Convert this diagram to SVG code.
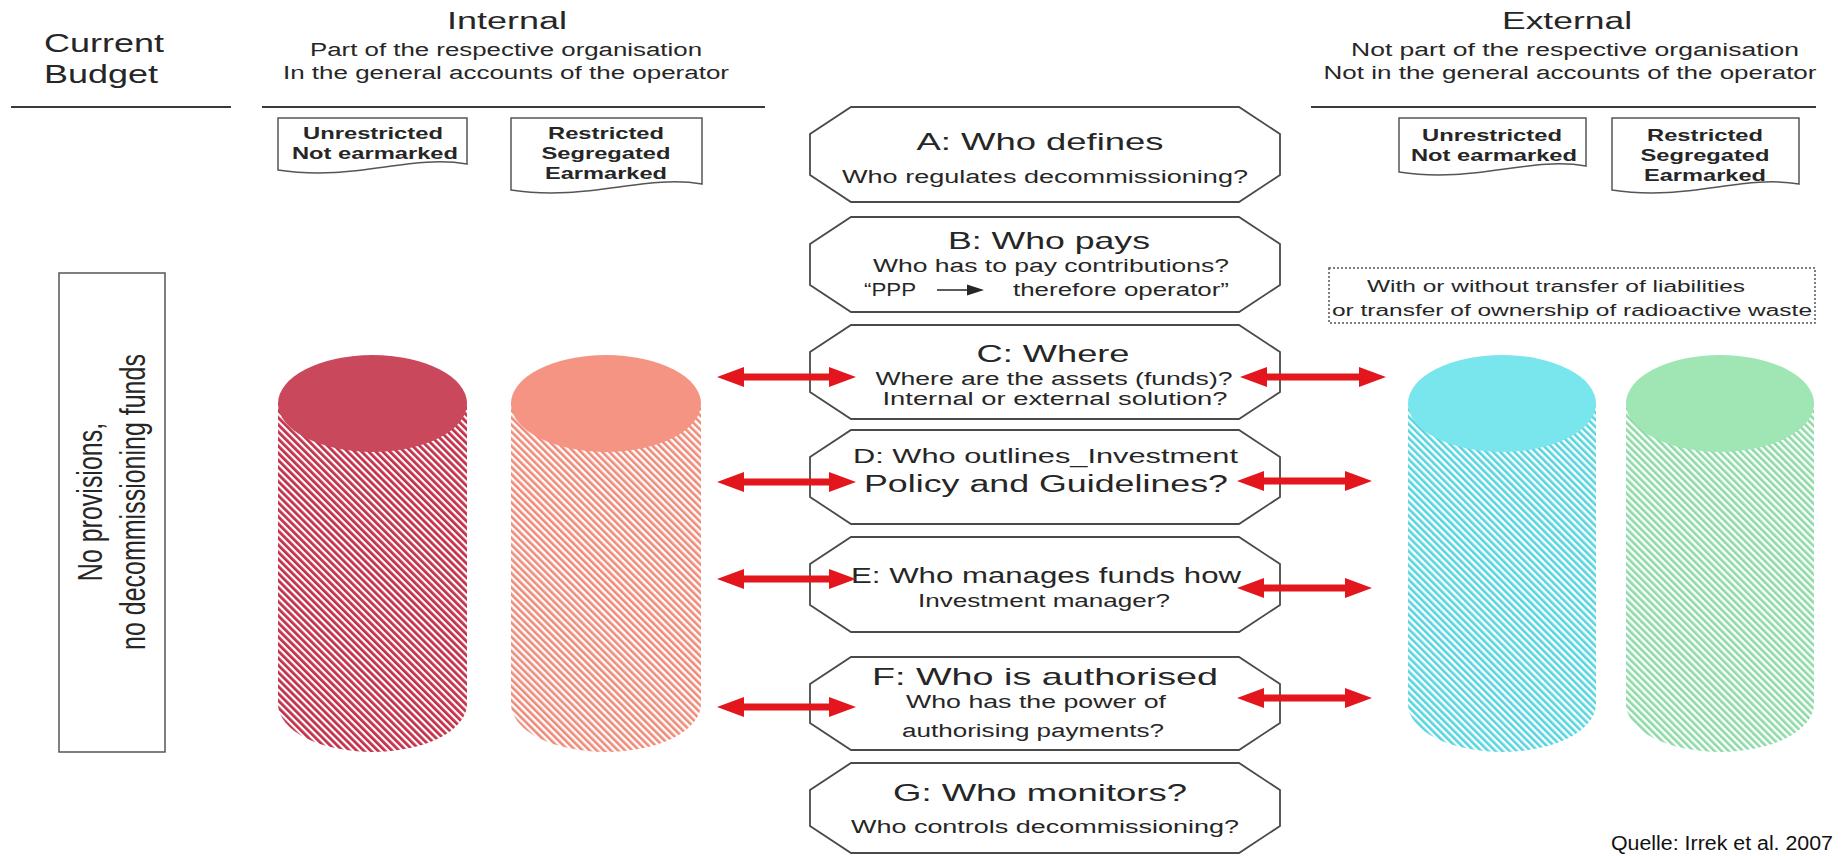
<svg xmlns="http://www.w3.org/2000/svg" width="1843" height="856" viewBox="0 0 1843 856">
<style>
.t{font-family:"Liberation Sans",Arial,Helvetica,sans-serif;fill:#262626}
.m{text-anchor:middle}
.b{font-weight:bold}
.ln{stroke:#3a3a3a;stroke-width:2;fill:none}
.oct{fill:#fff;stroke:#4a4a4a;stroke-width:1.8}
.doc{fill:#fff;stroke:#555;stroke-width:1.5}
.arr{fill:#e3161e}
</style>
<defs>
<pattern id="hR" width="5" height="5" patternUnits="userSpaceOnUse" patternTransform="rotate(-45)"><rect width="5" height="5" fill="#fff"/><rect width="2.8" height="5" fill="#c4304a"/></pattern>
<pattern id="hS" width="5" height="5" patternUnits="userSpaceOnUse" patternTransform="rotate(-45)"><rect width="5" height="5" fill="#fff"/><rect width="2.6" height="5" fill="#f08a78"/></pattern>
<pattern id="hC" width="5" height="5" patternUnits="userSpaceOnUse" patternTransform="rotate(-45)"><rect width="5" height="5" fill="#fff"/><rect width="2.6" height="5" fill="#55d5dd"/></pattern>
<pattern id="hG" width="5" height="5" patternUnits="userSpaceOnUse" patternTransform="rotate(-45)"><rect width="5" height="5" fill="#fff"/><rect width="2.6" height="5" fill="#8cdaa6"/></pattern>
</defs>
<rect width="1843" height="856" fill="#fff"/>

<g id="header-budget">
<text class="t" x="44" y="52" font-size="25" textLength="120" lengthAdjust="spacingAndGlyphs">Current</text>
<text class="t" x="44" y="83" font-size="25" textLength="114" lengthAdjust="spacingAndGlyphs">Budget</text>
<line class="ln" x1="11" y1="107" x2="231" y2="107"/>
</g>

<g id="header-internal">
<text class="t m" x="507" y="29" font-size="23" textLength="120" lengthAdjust="spacingAndGlyphs">Internal</text>
<text class="t m" x="506" y="56" font-size="18" textLength="392" lengthAdjust="spacingAndGlyphs">Part of the respective organisation</text>
<text class="t m" x="506" y="79" font-size="18" textLength="446" lengthAdjust="spacingAndGlyphs">In the general accounts of the operator</text>
<line class="ln" x1="262" y1="107" x2="765" y2="107"/>
</g>

<g id="header-external">
<text class="t m" x="1567" y="29" font-size="23" textLength="130" lengthAdjust="spacingAndGlyphs">External</text>
<text class="t m" x="1575" y="56" font-size="18" textLength="448" lengthAdjust="spacingAndGlyphs">Not part of the respective organisation</text>
<text class="t m" x="1570" y="79" font-size="18" textLength="493" lengthAdjust="spacingAndGlyphs">Not in the general accounts of the operator</text>
<line class="ln" x1="1311" y1="107" x2="1816" y2="107"/>
</g>

<g id="doc-int-unrestricted">
<path class="doc" d="M278 118 H467 V164 C410 154 354 182 278 170 Z"/>
<text class="t m b" x="373" y="139" font-size="16.5" textLength="140" lengthAdjust="spacingAndGlyphs">Unrestricted</text>
<text class="t m b" x="375" y="159" font-size="16.5" textLength="166" lengthAdjust="spacingAndGlyphs">Not earmarked</text>
</g>
<g id="doc-int-restricted">
<path class="doc" d="M511 118 H702 V184 C645 174 587 202 511 190 Z"/>
<text class="t m b" x="606" y="139" font-size="16.5" textLength="116" lengthAdjust="spacingAndGlyphs">Restricted</text>
<text class="t m b" x="606" y="159" font-size="16.5" textLength="129" lengthAdjust="spacingAndGlyphs">Segregated</text>
<text class="t m b" x="606" y="179" font-size="16.5" textLength="122" lengthAdjust="spacingAndGlyphs">Earmarked</text>
</g>
<g id="doc-ext-unrestricted">
<path class="doc" d="M1399 118 H1586 V166 C1530 156 1474 184 1399 172 Z"/>
<text class="t m b" x="1492" y="141" font-size="16.5" textLength="140" lengthAdjust="spacingAndGlyphs">Unrestricted</text>
<text class="t m b" x="1494" y="161" font-size="16.5" textLength="166" lengthAdjust="spacingAndGlyphs">Not earmarked</text>
</g>
<g id="doc-ext-restricted">
<path class="doc" d="M1612 118 H1799 V184 C1743 174 1687 202 1612 190 Z"/>
<text class="t m b" x="1705" y="141" font-size="16.5" textLength="116" lengthAdjust="spacingAndGlyphs">Restricted</text>
<text class="t m b" x="1705" y="161" font-size="16.5" textLength="129" lengthAdjust="spacingAndGlyphs">Segregated</text>
<text class="t m b" x="1705" y="181" font-size="16.5" textLength="122" lengthAdjust="spacingAndGlyphs">Earmarked</text>
</g>

<g id="no-provisions">
<rect x="59" y="273" width="106" height="479" fill="#fff" stroke="#555" stroke-width="1.5"/>
<text class="t m" font-size="25" transform="translate(102,502) scale(1.38,1) rotate(-90)">No provisions,</text>
<text class="t m" font-size="25" transform="translate(145,502) scale(1.38,1) rotate(-90)">no decommissioning funds</text>
</g>

<g id="cyl-int-unrestricted">
<path d="M278 403 V704 A94.5 48 0 0 0 467 704 V403 Z" fill="url(#hR)"/>
<ellipse cx="372.5" cy="403.5" rx="94.5" ry="48.5" fill="#c9485b"/>
</g>
<g id="cyl-int-restricted">
<path d="M511 403 V704 A95 48 0 0 0 701 704 V403 Z" fill="url(#hS)"/>
<ellipse cx="606" cy="403.5" rx="95" ry="48.5" fill="#f59483"/>
</g>
<g id="cyl-ext-unrestricted">
<path d="M1408 403 V704 A94 48 0 0 0 1596 704 V403 Z" fill="url(#hC)"/>
<ellipse cx="1502" cy="403.5" rx="94" ry="48.5" fill="#79e5ec"/>
</g>
<g id="cyl-ext-restricted">
<path d="M1626 403 V704 A94 48 0 0 0 1814 704 V403 Z" fill="url(#hG)"/>
<ellipse cx="1720" cy="403.5" rx="94" ry="48.5" fill="#9fe6b4"/>
</g>

<g id="transfer-note">
<rect x="1329" y="268" width="486" height="55" fill="#fff" stroke="#555" stroke-width="1.5" stroke-dasharray="2 2"/>
<text class="t m" x="1556" y="292" font-size="16" textLength="378" lengthAdjust="spacingAndGlyphs">With or without transfer of liabilities</text>
<text class="t m" x="1572" y="316" font-size="16" textLength="480" lengthAdjust="spacingAndGlyphs">or transfer of ownership of radioactive waste</text>
</g>

<g id="node-a">
<path class="oct" d="M851 107 H1239 L1280 134 V175 L1239 202 H851 L810 175 V134 Z"/>
<text class="t m" x="1040" y="150" font-size="24" textLength="247" lengthAdjust="spacingAndGlyphs">A: Who defines</text>
<text class="t m" x="1045" y="183" font-size="18" textLength="406" lengthAdjust="spacingAndGlyphs">Who regulates decommissioning?</text>
</g>
<g id="node-b">
<path class="oct" d="M851 217 H1239 L1280 244 V285 L1239 312 H851 L810 285 V244 Z"/>
<text class="t m" x="1049" y="249" font-size="24" textLength="202" lengthAdjust="spacingAndGlyphs">B: Who pays</text>
<text class="t m" x="1051" y="272" font-size="18" textLength="356" lengthAdjust="spacingAndGlyphs">Who has to pay contributions?</text>
<text class="t" x="864" y="296" font-size="18" textLength="52" lengthAdjust="spacingAndGlyphs">“PPP</text>
<line x1="937" y1="290" x2="969" y2="290" stroke="#262626" stroke-width="1.5"/>
<polygon points="967,284.5 984,290 967,295.5" fill="#262626"/>
<text class="t" x="1013" y="296" font-size="18" textLength="216" lengthAdjust="spacingAndGlyphs">therefore operator”</text>
</g>
<g id="node-c">
<path class="oct" d="M851 325 H1239 L1280 352 V392 L1239 419 H851 L810 392 V352 Z"/>
<text class="t m" x="1053" y="362" font-size="24" textLength="153" lengthAdjust="spacingAndGlyphs">C: Where</text>
<text class="t m" x="1054" y="385" font-size="18" textLength="357" lengthAdjust="spacingAndGlyphs">Where are the assets (funds)?</text>
<text class="t m" x="1055" y="405" font-size="18" textLength="345" lengthAdjust="spacingAndGlyphs">Internal or external solution?</text>
</g>
<g id="node-d">
<path class="oct" d="M851 430 H1239 L1280 457 V497 L1239 524 H851 L810 497 V457 Z"/>
<text class="t" x="853" y="463" font-size="21" textLength="385" lengthAdjust="spacingAndGlyphs">D: Who outlines_Investment</text>
<text class="t" x="864" y="492" font-size="23" textLength="364" lengthAdjust="spacingAndGlyphs">Policy and Guidelines?</text>
</g>
<g id="node-e">
<path class="oct" d="M851 537 H1239 L1280 564 V605 L1239 632 H851 L810 605 V564 Z"/>
<text class="t" x="851" y="583" font-size="22" textLength="390" lengthAdjust="spacingAndGlyphs">E: Who manages funds how</text>
<text class="t m" x="1044" y="607" font-size="17.5" textLength="252" lengthAdjust="spacingAndGlyphs">Investment manager?</text>
</g>
<g id="node-f">
<path class="oct" d="M851 657 H1239 L1280 684 V723 L1239 750 H851 L810 723 V684 Z"/>
<text class="t m" x="1045" y="685" font-size="24" textLength="346" lengthAdjust="spacingAndGlyphs">F: Who is authorised</text>
<text class="t m" x="1036" y="708" font-size="18" textLength="260" lengthAdjust="spacingAndGlyphs">Who has the power of</text>
<text class="t m" x="1033" y="737" font-size="18" textLength="262" lengthAdjust="spacingAndGlyphs">authorising payments?</text>
</g>
<g id="node-g">
<path class="oct" d="M851 763 H1239 L1280 790 V826 L1239 853 H851 L810 826 V790 Z"/>
<text class="t m" x="1040" y="801" font-size="24" textLength="294" lengthAdjust="spacingAndGlyphs">G: Who monitors?</text>
<text class="t m" x="1045" y="833" font-size="18" textLength="388" lengthAdjust="spacingAndGlyphs">Who controls decommissioning?</text>
</g>

<g id="connectors">
<path class="arr" d="M717 377 L744 367 L744 373.5 L829 373.5 L829 367 L856 377 L829 387 L829 380.5 L744 380.5 L744 387 Z"/>
<path class="arr" d="M717 482 L744 472 L744 478.5 L829 478.5 L829 472 L856 482 L829 492 L829 485.5 L744 485.5 L744 492 Z"/>
<path class="arr" d="M717 579 L744 569 L744 575.5 L829 575.5 L829 569 L856 579 L829 589 L829 582.5 L744 582.5 L744 589 Z"/>
<path class="arr" d="M717 707 L744 697 L744 703.5 L829 703.5 L829 697 L856 707 L829 717 L829 710.5 L744 710.5 L744 717 Z"/>
<path class="arr" d="M1240 377 L1267 367 L1267 373.5 L1359 373.5 L1359 367 L1386 377 L1359 387 L1359 380.5 L1267 380.5 L1267 387 Z"/>
<path class="arr" d="M1237 481 L1264 471 L1264 477.5 L1345 477.5 L1345 471 L1372 481 L1345 491 L1345 484.5 L1264 484.5 L1264 491 Z"/>
<path class="arr" d="M1237 588 L1264 578 L1264 584.5 L1345 584.5 L1345 578 L1372 588 L1345 598 L1345 591.5 L1264 591.5 L1264 598 Z"/>
<path class="arr" d="M1237 698 L1264 688 L1264 694.5 L1345 694.5 L1345 688 L1372 698 L1345 708 L1345 701.5 L1264 701.5 L1264 708 Z"/>
</g>

<g id="source">
<text x="1833" y="850" text-anchor="end" font-family="'Liberation Sans',Arial,sans-serif" font-size="20" fill="#111" textLength="222" lengthAdjust="spacingAndGlyphs">Quelle: Irrek et al. 2007</text>
</g>
</svg>
